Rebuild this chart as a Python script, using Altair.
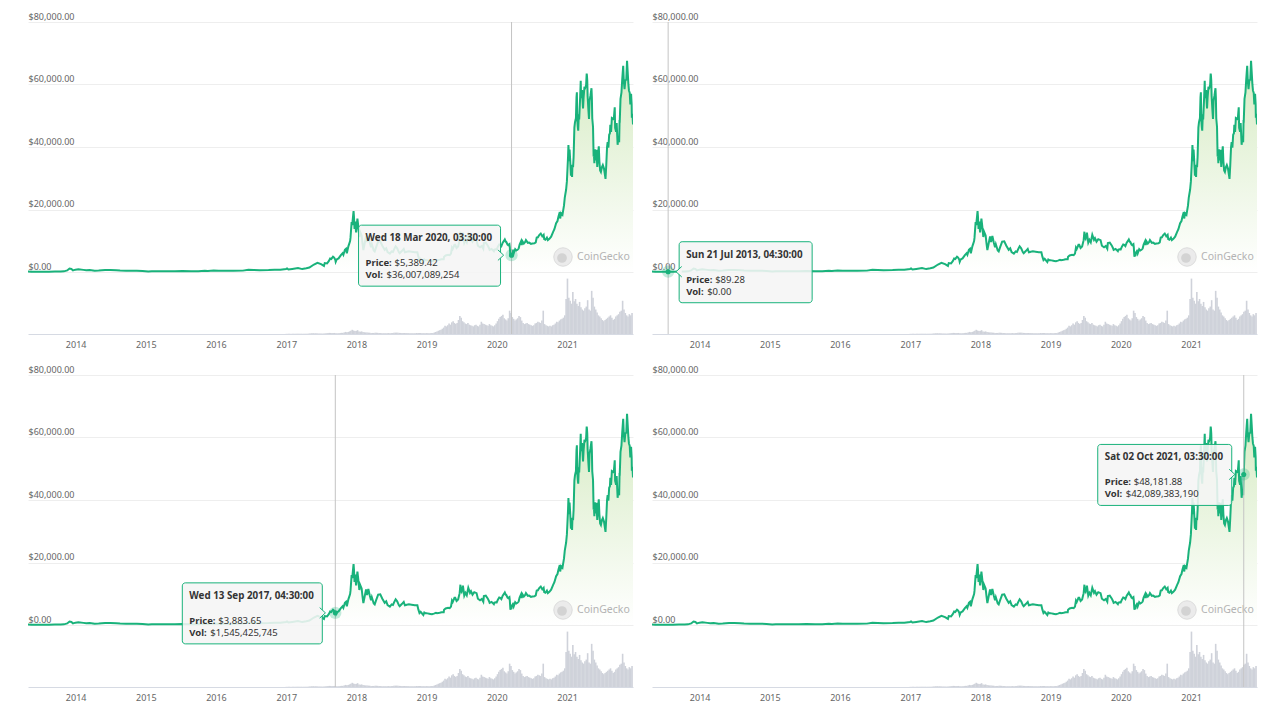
import altair as alt
import pandas as pd

# ---------------- data ----------------
price_dates = [
    "2013-04-28", "2013-05-15", "2013-06-15", "2013-07-05", "2013-07-21", "2013-08-15", "2013-09-15",
    "2013-10-15", "2013-11-01", "2013-11-18", "2013-11-30", "2013-12-10", "2013-12-18", "2013-12-31",
    "2014-01-15", "2014-02-10", "2014-02-25", "2014-03-15", "2014-04-10", "2014-05-01", "2014-06-03",
    "2014-07-01", "2014-08-01", "2014-08-20", "2014-09-20", "2014-10-15", "2014-11-15", "2014-12-15",
    "2015-01-14", "2015-02-01", "2015-03-01", "2015-04-15", "2015-06-01", "2015-07-10", "2015-08-25",
    "2015-10-01", "2015-11-04", "2015-11-20", "2015-12-20",
    "2016-01-15", "2016-02-15", "2016-04-01", "2016-05-20", "2016-06-18", "2016-07-15", "2016-08-15",
    "2016-10-01", "2016-11-01", "2016-12-01", "2016-12-31",
    "2017-01-05", "2017-01-12", "2017-02-01", "2017-03-03", "2017-03-25", "2017-04-15", "2017-05-01",
    "2017-05-25", "2017-06-12", "2017-07-01", "2017-07-16", "2017-07-20", "2017-08-01", "2017-08-10",
    "2017-08-17", "2017-08-23", "2017-09-01", "2017-09-07", "2017-09-13", "2017-09-15", "2017-09-20",
    "2017-09-30", "2017-10-12", "2017-10-21", "2017-10-25", "2017-11-02", "2017-11-08", "2017-11-12",
    "2017-11-20", "2017-11-29", "2017-12-01", "2017-12-07", "2017-12-10", "2017-12-17", "2017-12-19",
    "2017-12-22", "2017-12-26", "2017-12-30",
    "2018-01-06", "2018-01-10", "2018-01-16", "2018-01-20", "2018-01-28", "2018-02-02", "2018-02-06",
    "2018-02-12", "2018-02-20", "2018-02-25", "2018-03-04", "2018-03-11", "2018-03-18", "2018-03-22",
    "2018-04-01", "2018-04-06", "2018-04-13", "2018-04-24", "2018-05-05", "2018-05-15", "2018-05-28",
    "2018-06-05", "2018-06-12", "2018-06-24", "2018-07-03", "2018-07-10", "2018-07-17", "2018-07-24",
    "2018-08-01", "2018-08-10", "2018-08-14", "2018-08-25", "2018-09-04", "2018-09-10", "2018-09-20",
    "2018-10-01", "2018-10-15", "2018-11-01", "2018-11-14", "2018-11-19", "2018-11-25", "2018-12-01",
    "2018-12-15", "2018-12-20", "2018-12-25",
    "2019-01-01", "2019-01-10", "2019-01-20", "2019-01-29", "2019-02-08", "2019-02-19", "2019-02-24",
    "2019-03-10", "2019-03-20", "2019-03-31", "2019-04-02", "2019-04-10", "2019-04-23", "2019-05-01",
    "2019-05-08", "2019-05-13", "2019-05-17", "2019-05-26", "2019-05-30", "2019-06-06", "2019-06-14",
    "2019-06-22", "2019-06-26", "2019-06-27", "2019-07-02", "2019-07-09", "2019-07-16", "2019-07-22",
    "2019-07-29", "2019-08-06", "2019-08-15", "2019-08-20", "2019-08-28", "2019-09-06", "2019-09-18",
    "2019-09-25", "2019-10-06", "2019-10-15", "2019-10-23", "2019-10-26", "2019-11-05", "2019-11-15",
    "2019-11-22", "2019-11-25", "2019-12-05", "2019-12-17", "2019-12-20", "2019-12-27",
    "2020-01-01", "2020-01-07", "2020-01-14", "2020-01-19", "2020-01-25", "2020-02-01", "2020-02-09",
    "2020-02-12", "2020-02-17", "2020-02-20", "2020-02-26", "2020-03-01", "2020-03-07", "2020-03-09",
    "2020-03-12", "2020-03-15", "2020-03-18", "2020-03-20", "2020-03-25", "2020-03-29", "2020-04-06",
    "2020-04-12", "2020-04-18", "2020-04-24", "2020-04-29", "2020-05-07", "2020-05-10", "2020-05-14",
    "2020-05-21", "2020-05-28", "2020-06-01", "2020-06-11", "2020-06-18", "2020-06-27", "2020-07-05",
    "2020-07-15", "2020-07-22", "2020-07-27", "2020-08-02", "2020-08-10", "2020-08-17", "2020-08-25",
    "2020-09-01", "2020-09-04", "2020-09-10", "2020-09-18", "2020-09-23", "2020-10-01", "2020-10-10",
    "2020-10-21", "2020-10-27", "2020-11-05", "2020-11-12", "2020-11-17", "2020-11-24", "2020-11-26",
    "2020-12-01", "2020-12-08", "2020-12-16", "2020-12-20", "2020-12-27", "2020-12-31",
    "2021-01-03", "2021-01-06", "2021-01-08", "2021-01-10", "2021-01-11", "2021-01-13", "2021-01-14",
    "2021-01-17", "2021-01-21", "2021-01-24", "2021-01-27", "2021-01-29", "2021-02-01", "2021-02-04",
    "2021-02-08", "2021-02-11", "2021-02-14", "2021-02-16", "2021-02-19", "2021-02-21", "2021-02-23",
    "2021-02-26", "2021-02-28", "2021-03-03", "2021-03-05", "2021-03-10", "2021-03-13", "2021-03-15",
    "2021-03-18", "2021-03-20", "2021-03-23", "2021-03-25", "2021-03-28", "2021-04-01", "2021-04-05",
    "2021-04-10", "2021-04-13", "2021-04-14", "2021-04-16", "2021-04-18", "2021-04-22", "2021-04-25",
    "2021-04-28", "2021-05-03", "2021-05-08", "2021-05-10", "2021-05-12", "2021-05-16", "2021-05-19",
    "2021-05-21", "2021-05-23", "2021-05-26", "2021-05-29", "2021-06-03", "2021-06-07", "2021-06-11",
    "2021-06-15", "2021-06-18", "2021-06-22", "2021-06-26", "2021-07-01", "2021-07-06", "2021-07-12",
    "2021-07-16", "2021-07-20", "2021-07-24", "2021-07-28", "2021-07-31", "2021-08-04", "2021-08-08",
    "2021-08-12", "2021-08-14", "2021-08-18", "2021-08-22", "2021-08-27", "2021-09-01", "2021-09-06",
    "2021-09-08", "2021-09-13", "2021-09-16", "2021-09-21", "2021-09-24", "2021-09-29", "2021-10-01",
    "2021-10-02", "2021-10-06", "2021-10-11", "2021-10-15", "2021-10-20", "2021-10-23", "2021-10-27",
    "2021-10-31", "2021-11-05", "2021-11-09", "2021-11-12", "2021-11-16", "2021-11-19", "2021-11-23",
    "2021-11-26", "2021-11-30", "2021-12-03", "2021-12-04", "2021-12-07", "2021-12-10",
]
price_values = [
    135, 115, 100, 70, 89, 105, 130,
    150, 205, 500, 1130, 980, 520, 750,
    850, 680, 540, 620, 430, 450, 660,
    640, 590, 480, 410, 390, 410, 340,
    180, 230, 260, 220, 230, 280, 210,
    240, 400, 330, 440,
    380, 400, 415, 440, 750, 660, 570,
    610, 720, 750, 960,
    1130, 790, 980, 1280, 930, 1180, 1420,
    2400, 2950, 2500, 1930, 2850, 2750, 3450,
    4300, 4150, 4900, 4600, 3880, 3250, 4000,
    4350, 5400, 6000, 5500, 7100, 7450, 5950,
    8200, 9900, 10900, 16000, 15000, 19500, 17800,
    13800, 16100, 12700,
    17100, 14900, 11200, 12900, 11700, 8900, 7000,
    8900, 11400, 9600, 11500, 9500, 7900, 8900,
    6900, 6600, 7900, 9700, 9800, 8500, 7100,
    7600, 6400, 5900, 6600, 6400, 7400, 8200,
    7600, 6300, 6000, 6700, 7400, 6300, 6500,
    6600, 6500, 6350, 6300, 5000, 3800, 4200,
    3200, 4000, 3800,
    3800, 3650, 3550, 3450, 3650, 3900, 3800,
    3900, 4050, 4100, 4900, 5300, 5500, 5400,
    5900, 7800, 7350, 8700, 8700, 7700, 8200,
    10200, 12900, 11100, 10600, 12600, 9400, 10300,
    9500, 11900, 10300, 10800, 9700, 10500, 10200,
    8400, 7900, 8300, 7450, 9250, 9400, 8500,
    7600, 7100, 7400, 6650, 7150, 7250,
    7200, 8100, 8800, 8700, 8300, 9400, 10100,
    10400, 9700, 9600, 8800, 8600, 8900, 7900,
    4900, 5400, 5390, 6200, 6700, 5900, 7300,
    6900, 7100, 7500, 8800, 9900, 8600, 9800,
    9100, 9600, 10200, 9300, 9400, 9000, 9100,
    9200, 9500, 11000, 11100, 11900, 12300, 11400,
    11900, 10500, 10300, 11000, 10200, 10600, 11300,
    12900, 13700, 15600, 16300, 17700, 19200, 17100,
    18800, 18300, 21300, 23800, 26400, 29000,
    32900, 36800, 40600, 38300, 35500, 37400, 39200,
    36000, 30800, 32300, 30400, 34300, 33500, 36900,
    46200, 47900, 48700, 49200, 55900, 57500, 48800,
    46300, 45200, 50500, 48800, 55900, 61200, 55600,
    57600, 58200, 54500, 52300, 55900, 58900, 58800,
    59800, 63500, 63100, 61300, 56200, 51800, 49000,
    54800, 56600, 58800, 55800, 49200, 46400, 37000,
    37300, 34800, 39300, 35700, 39100, 33600, 37300,
    40200, 35500, 32500, 32000, 33500, 34200, 33100,
    31500, 29800, 34300, 40000, 41600, 39800, 43900,
    44400, 47100, 44800, 49300, 49100, 48900, 52700,
    46100, 44900, 47700, 40700, 42800, 41500, 48200,
    48180, 55400, 57500, 61700, 66000, 61300, 58500,
    61300, 61500, 67600, 64400, 60100, 58100, 57300,
    53600, 57000, 53600, 49400, 50600, 47200,
]

# weekly trading volume (billions USD), one value per week from vol_start
vol_start = "2017-01-01"
vol_values = [
    0.3, 0.3, 0.3, 0.3, 0.3, 0.3, 0.4, 0.4, 0.4, 0.5, 0.4, 0.4, 0.4,
    0.4, 0.5, 0.5, 0.6, 0.8, 1.0, 1.2, 1.3, 1.1, 1.1, 1.0, 0.9, 0.8,
    0.8, 0.7, 1.0, 1.1, 1.3, 1.7, 1.9, 1.8, 1.6, 1.6, 1.8, 1.3, 1.2,
    1.3, 1.7, 2.0, 1.9, 2.4, 3.6, 2.9, 3.6, 4.5, 5.7, 7.2, 6.0, 5.1,
    5.4, 6.6, 4.5, 3.9, 4.5, 3.6, 3.0, 2.7, 2.6, 2.4, 2.2, 1.9, 1.8,
    1.8, 2.0, 2.2, 1.9, 1.7, 1.6, 1.4, 1.4, 1.3, 1.3, 1.4, 1.6, 1.4,
    1.5, 1.6, 2.0, 2.3, 2.4, 2.3, 1.9, 1.8, 1.7, 1.6, 1.7, 1.6, 1.4,
    1.4, 1.3, 1.3, 1.2, 1.2, 1.3, 1.7, 1.9, 1.7, 1.6, 1.4, 1.4, 1.4,
    1.5, 1.4, 1.5, 1.4, 1.6, 1.8, 2.5, 3.5, 4.5, 5.5, 6.5, 7.5, 9.0,
    11, 14, 13, 15, 18, 16, 20, 22, 19, 17, 19, 24, 31,
    28, 22, 20, 18, 17, 19, 16, 15, 14, 13, 15, 16, 14,
    13, 16, 21, 18, 17, 16, 15, 14, 17, 15, 14, 13, 15,
    18, 22, 26, 29, 31, 33, 27, 25, 23, 27, 40, 36, 29,
    26, 23, 25, 27, 31, 29, 23, 19, 17, 18, 19, 17, 16,
    15, 14, 15, 18, 19, 21, 20, 19, 23, 40, 17, 15, 14,
    13, 14, 13, 15, 16, 18, 21, 20, 23, 25, 26, 28, 32,
    60, 95, 62, 57, 52, 72, 56, 60, 52, 48, 55, 46, 42,
    40, 44, 47, 58, 42, 40, 74, 62, 47, 42, 37, 32, 30,
    27, 24, 22, 24, 26, 28, 30, 32, 28, 24, 26, 30, 32,
    34, 38, 40, 57, 42, 36, 32, 30, 34, 32, 36,
]

year_ticks = [2014, 2015, 2016, 2017, 2018, 2019, 2020, 2021]
price_ticks = [0, 20000, 40000, 60000, 80000]

tip_dates = ["2020-03-18", "2013-07-21", "2017-09-13", "2021-10-02"]
tip_prices = [5389.42, 89.28, 3883.65, 48181.88]
tip_titles = ["Wed 18 Mar 2020, 03:30:00", "Sun 21 Jul 2013, 04:30:00",
              "Wed 13 Sep 2017, 04:30:00", "Sat 02 Oct 2021, 03:30:00"]
tip_price_text = ["$5,389.42", "$89.28", "$3,883.65", "$48,181.88"]
tip_vol_text = ["$36,007,089,254", "$0.00", "$1,545,425,745", "$42,089,383,190"]

# ---------------- layout / style ----------------
W, H = 605, 312
GREEN = "#19b27b"
FONT = "Noto Sans"
PRICE_DOMAIN = [-19840, 80000]
VOL_DOMAIN = [0, 535]

# tooltip box geometry relative to the hovered point (pixels)
box_layout = [
    dict(x0=-153, x1=-11, tx=-146, side="left"),
    dict(x0=11, x1=144, tx=18, side="right"),
    dict(x0=-153, x1=-13, tx=-146, side="left"),
    dict(x0=-146, x1=-12, tx=-139, side="left"),
]

price_df = pd.DataFrame({"date": price_dates, "price": price_values})
vol_dates = pd.date_range(vol_start, periods=len(vol_values), freq="7D").strftime("%Y-%m-%d")
vol_df = pd.DataFrame({"date": list(vol_dates), "vol": vol_values})

x_scale = alt.Scale(type="utc", padding=0, nice=False,
                    domain=[alt.DateTime(year=2013, month=4, date=28, utc=True),
                            alt.DateTime(year=2021, month=12, date=10, utc=True)])
x_axis = alt.Axis(values=[alt.DateTime(year=y, month=1, date=1, utc=True) for y in year_ticks],
                  format="%Y", formatType="utc", title=None, grid=False, ticks=False,
                  domain=True, domainColor="#d6dae3", labelColor="#666666", labelFont=FONT,
                  labelFontSize=9, labelPadding=6, labelFlush=False)
y_scale = alt.Scale(domain=PRICE_DOMAIN, nice=False, zero=False, padding=0)
y_axis = alt.Axis(values=price_ticks, format="$,.2f", title=None, ticks=False, tickSize=0,
                  domain=False, grid=True, gridColor="#eeeeee", labelAlign="left",
                  labelBaseline="bottom", labelPadding=0, labelOffset=-1,
                  labelColor="#666666", labelFont=FONT, labelFontSize=9)


def X():
    return alt.X("date:T", scale=x_scale, axis=x_axis)


def Yp(axis=None):
    return alt.Y("price:Q", scale=y_scale, axis=axis)


def panel(i):
    lay = box_layout[i]
    tip = pd.DataFrame({"date": [tip_dates[i]], "price": [tip_prices[i]],
                        "title": [tip_titles[i]], "ptxt": [tip_price_text[i]],
                        "vtxt": [tip_vol_text[i]]})

    vol = alt.Chart(vol_df).mark_bar(width=1.6, color="#cfd2da", clip=True).encode(
        x=X(), y=alt.Y("vol:Q", scale=alt.Scale(domain=VOL_DOMAIN, padding=0), axis=None))

    area = alt.Chart(price_df).mark_area(
        clip=True,
        color=alt.Gradient(gradient="linear",
                           stops=[alt.GradientStop(color="#ffffff", offset=0),
                                  alt.GradientStop(color="#d6ebc3", offset=1)],
                           x1=1, x2=1, y1=1, y2=0)
    ).encode(x=X(), y=Yp(), y2=alt.Y2(datum=0))

    line = alt.Chart(price_df).mark_line(color=GREEN, strokeWidth=2, clip=True).encode(
        x=X(), y=Yp(axis=y_axis))

    rule = alt.Chart(tip).mark_rule(color="#c4c4c4", strokeWidth=1).encode(x=X())

    halo = alt.Chart(tip).mark_circle(size=150, color=GREEN, opacity=0.25).encode(x=X(), y=Yp())
    dot = alt.Chart(tip).mark_circle(size=26, color=GREEN, opacity=1).encode(x=X(), y=Yp())

    box = alt.Chart(tip).mark_rect(
        fill="#f5f5f5", fillOpacity=0.88, stroke=GREEN, strokeWidth=1, cornerRadius=3,
        xOffset=lay["x0"], x2Offset=lay["x1"], yOffset=-30, y2Offset=31
    ).encode(x=X(), x2=alt.X2("date:T"), y=Yp(), y2=alt.Y2("price:Q"))

    if lay["side"] == "left":
        shape, px = "M-0.5,-1L0.6,0L-0.5,1", lay["x1"]
    else:
        shape, px = "M0.5,-1L-0.6,0L0.5,1", lay["x0"]
    pointer = alt.Chart(tip).mark_point(
        shape=shape, filled=True, fill="#f5f5f5", stroke=GREEN, strokeWidth=1,
        fillOpacity=1, opacity=1, size=110, xOffset=px
    ).encode(x=X(), y=Yp())

    tx = lay["tx"]
    base = dict(align="left", baseline="middle", font=FONT, fontSize=9.5, color="#333333")
    title = alt.Chart(tip).mark_text(dx=tx, dy=-17, fontWeight="bold",
                                     **{**base, "fontSize": 9.8}).encode(
        x=X(), y=Yp(), text="title:N")
    plab = alt.Chart(tip).mark_text(dx=tx, dy=8, fontWeight="bold", **base).encode(
        x=X(), y=Yp(), text=alt.value("Price:"))
    pval = alt.Chart(tip).mark_text(dx=tx + 29, dy=8, **base).encode(
        x=X(), y=Yp(), text="ptxt:N")
    vlab = alt.Chart(tip).mark_text(dx=tx, dy=20, fontWeight="bold", **base).encode(
        x=X(), y=Yp(), text=alt.value("Vol:"))
    vval = alt.Chart(tip).mark_text(dx=tx + 21, dy=20, **base).encode(
        x=X(), y=Yp(), text="vtxt:N")

    # CoinGecko watermark (decorative, fixed position inside the plot)
    logo = alt.Chart(tip).mark_circle(size=340, fill="#ebebeb", stroke="#dcdcdc",
                                      strokeWidth=1, opacity=1).encode(
        x=alt.value(535), y=alt.value(235))
    head = alt.Chart(tip).mark_circle(size=95, color="#d3d3d3", opacity=1).encode(
        x=alt.value(534), y=alt.value(236))
    wm = alt.Chart(tip).mark_text(align="left", baseline="middle", font=FONT, fontSize=10.5,
                                  color="#b3b3b3").encode(
        x=alt.value(549), y=alt.value(235), text=alt.value("CoinGecko"))

    return alt.layer(vol, area, line, logo, head, wm, rule, box, pointer, halo, dot,
                     title, plab, pval, vlab, vval).resolve_scale(y="independent").properties(
        width=W, height=H)


chart = alt.vconcat(
    alt.hconcat(panel(0), panel(1), spacing=19),
    alt.hconcat(panel(2), panel(3), spacing=19),
    spacing=16,
).properties(
    padding={"left": 20, "top": 4, "right": 5, "bottom": 5},
    background="white",
).configure_view(stroke=None)

chart.save("out.html", embed_options={"renderer": "svg", "actions": False})
